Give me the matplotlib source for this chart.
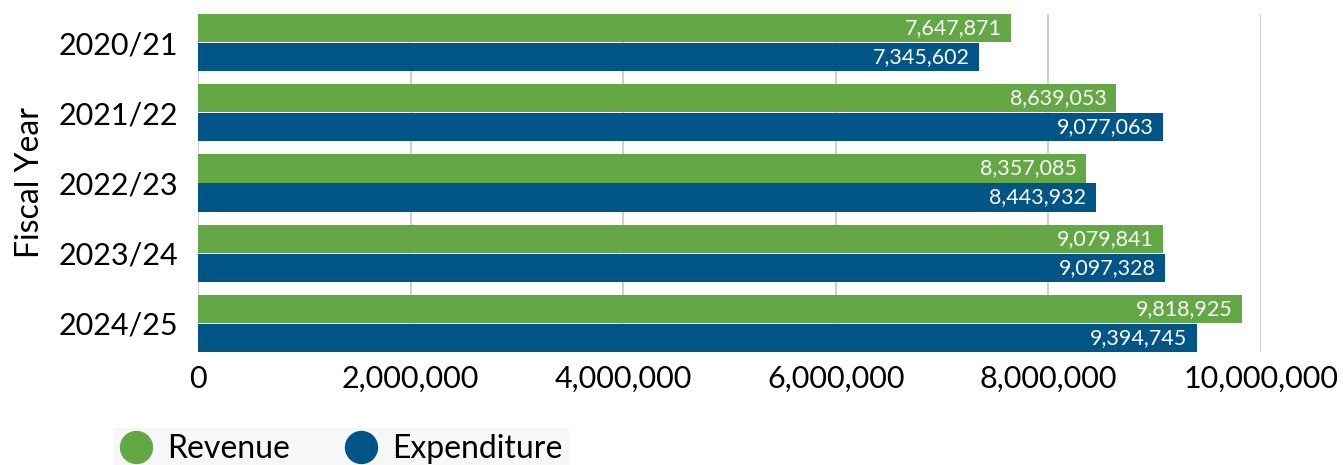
import numpy as np
import matplotlib.pyplot as plt
from matplotlib.lines import Line2D
from matplotlib.ticker import FuncFormatter

plt.rcParams['font.family'] = ['Lato', 'DejaVu Sans']

years = ['2020/21', '2021/22', '2022/23', '2023/24', '2024/25']
revenue = [7647871, 8639053, 8357085, 9079841, 9818925]
expenditure = [7345602, 9077063, 8443932, 9097328, 9394745]

green = '#63a845'
blue = '#005587'

fig = plt.figure(figsize=(13.43, 4.65), dpi=100)
ax = fig.add_axes([198 / 1343, 1 - 352 / 465, (1261 - 198) / 1343, (352 - 14) / 465])

y = np.arange(len(years))
h = 0.4
b1 = ax.barh(y - 0.207, revenue, height=h, color=green)
b2 = ax.barh(y + 0.207, expenditure, height=h, color=blue)

# value labels inside the bar ends
for bars in (b1, b2):
    for bar in bars:
        w = bar.get_width()
        ax.text(w - 90000, bar.get_y() + bar.get_height() / 2, f'{w:,.0f}',
                ha='right', va='center', color='white', fontsize=15.5)

ax.set_ylim(len(years) - 1 + 0.41, -0.41)
ax.set_xlim(0, 10000000)
ax.set_yticks(y)
ax.set_yticklabels(years, fontsize=22)
ax.set_xticks(np.arange(0, 10000001, 2000000))
ax.xaxis.set_major_formatter(FuncFormatter(lambda v, p: f'{v:,.0f}'))
ax.tick_params(axis='x', labelsize=22, length=0, pad=9)
ax.tick_params(axis='y', length=0, pad=14)
ax.grid(axis='x', color='#cccccc', linewidth=1.3)
ax.set_axisbelow(True)
for s in ax.spines.values():
    s.set_visible(False)
ax.set_ylabel('Fiscal Year', fontsize=23, labelpad=10)

handles = [Line2D([], [], marker='o', linestyle='none', markersize=23, color=green),
           Line2D([], [], marker='o', linestyle='none', markersize=23, color=blue)]
leg = fig.legend(handles, ['Revenue', 'Expenditure'], loc='lower left',
                 bbox_to_anchor=(114 / 1343, -0.012), ncol=2, fontsize=23,
                 frameon=True, handlelength=1.0, handletextpad=0.45,
                 columnspacing=1.75, borderpad=0.2, borderaxespad=0,
                 fancybox=False)
leg.get_frame().set_facecolor('#f6f6f6')
leg.get_frame().set_edgecolor('none')

fig.savefig('out.png', dpi=100)
